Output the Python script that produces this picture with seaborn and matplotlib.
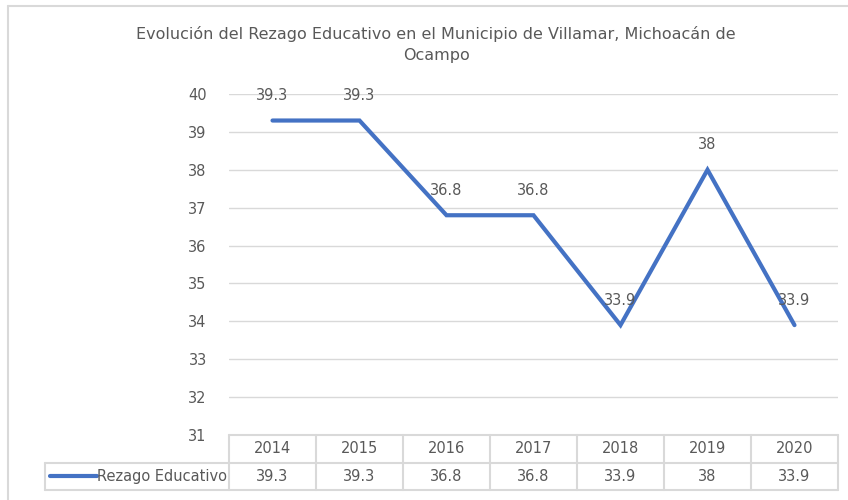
import matplotlib
matplotlib.use("Agg")
import matplotlib.pyplot as plt
import seaborn as sns
import pandas as pd

# ============================
# DATA
# ============================
years = ["2014", "2015", "2016", "2017", "2018", "2019", "2020"]
rezago = [39.3, 39.3, 36.8, 36.8, 33.9, 38, 33.9]
value_labels = ["39.3", "39.3", "36.8", "36.8", "33.9", "38", "33.9"]
series_name = "Rezago Educativo"
title = "Evolución del Rezago Educativo en el Municipio de Villamar, Michoacán de\nOcampo"
y_ticks = [31, 32, 33, 34, 35, 36, 37, 38, 39, 40]

df = pd.DataFrame({"pos": range(len(years)), "year": years, "value": rezago})

# ============================
# STYLE
# ============================
sns.set_theme(style="white")
plt.rcParams["font.family"] = ["Liberation Sans Narrow", "DejaVu Sans"]

TEXT = "#595959"
GRID = "#d9d9d9"
BLUE = "#4472C4"

W, H = 848, 500
fig = plt.figure(figsize=(W / 100, H / 100), dpi=100)

# pixel geometry of the plot area (Excel style)
x0, x1 = 229, 838
y_top, y_bot = 94, 435
ax = fig.add_axes([x0 / W, (H - y_bot) / H, (x1 - x0) / W, (y_bot - y_top) / H])

sns.lineplot(data=df, x="pos", y="value", ax=ax, color=BLUE, linewidth=3.0,
             solid_capstyle="round", solid_joinstyle="miter", zorder=3)

ax.set_xlim(-0.5, len(years) - 0.5)
ax.set_ylim(31, 40)
ax.set_yticks(y_ticks)
ax.set_xticks([])
ax.set_xlabel("")
ax.set_ylabel("")
for t in y_ticks:
    ax.axhline(t, color=GRID, linewidth=1.0, zorder=1)
for s in ax.spines.values():
    s.set_visible(False)
ax.tick_params(axis="y", length=0, pad=16, labelsize=10.5, labelcolor=TEXT)

# data labels above points
for i, (v, lab) in enumerate(zip(rezago, value_labels)):
    ax.annotate(lab, (i, v), xytext=(0, 25), textcoords="offset pixels",
                ha="center", va="center", fontsize=10.5, color=TEXT, zorder=4)

# title
fig.text(436 / W, 1 - 44.5 / H, title, ha="center", va="center",
         fontsize=11.5, color=TEXT, linespacing=1.55)

# ============================
# DATA TABLE
# ============================
t_left, t_bot = 45, 490
unit = (x1 - x0) / len(years)
tax = fig.add_axes([t_left / W, (H - t_bot) / H, (x1 - t_left) / W, (t_bot - y_bot) / H])
lx = -0.5 - (x0 - t_left) / unit
tax.set_xlim(lx, len(years) - 0.5)
tax.set_ylim(0, 2)
tax.axis("off")

lw = 1.5
tax.plot([-0.5, len(years) - 0.5], [2, 2], color=GRID, lw=lw, clip_on=False)
tax.plot([lx, len(years) - 0.5], [1, 1], color=GRID, lw=lw, clip_on=False)
tax.plot([lx, len(years) - 0.5], [0, 0], color=GRID, lw=lw, clip_on=False)
tax.plot([lx, lx], [0, 1], color=GRID, lw=lw, clip_on=False)
for i in range(len(years) + 1):
    tax.plot([i - 0.5, i - 0.5], [0, 2], color=GRID, lw=lw, clip_on=False)

for i, (yr, lab) in enumerate(zip(years, value_labels)):
    tax.text(i, 1.5, yr, ha="center", va="center", fontsize=10.5, color=TEXT)
    tax.text(i, 0.5, lab, ha="center", va="center", fontsize=10.5, color=TEXT)

# legend key + series name
key_a = lx + (50 - t_left) / unit
key_b = lx + (97 - t_left) / unit
tax.plot([key_a, key_b], [0.5, 0.5], color=BLUE, lw=3.0, solid_capstyle="round")
tax.text(key_b + 0.005, 0.5, series_name, ha="left", va="center", fontsize=10.5, color=TEXT)

# chart border
fig.add_artist(plt.Line2D([8 / W, 8 / W], [0, 1 - 5.5 / H], transform=fig.transFigure,
                          color=GRID, lw=1.5))
fig.add_artist(plt.Line2D([8 / W, 1], [1 - 5.5 / H, 1 - 5.5 / H], transform=fig.transFigure,
                          color=GRID, lw=1.5))

fig.savefig("out.png", dpi=100)
